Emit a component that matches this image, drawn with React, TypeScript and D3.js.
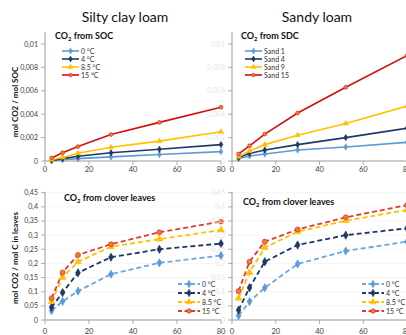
import React from "react";
import * as d3 from "d3";

const days = [3, 8, 15, 30, 52, 80];

const silt0 = [0.00003, 0.00012, 0.0002, 0.00035, 0.00055, 0.0008];
const silt4 = [0.00005, 0.0002, 0.0004, 0.0007, 0.001, 0.0014];
const silt85 = [0.0001, 0.0003, 0.00066, 0.00118, 0.0017, 0.0025];
const silt15 = [0.00026, 0.0007, 0.00123, 0.00226, 0.0033, 0.0046];

const sand1 = [0.0002, 0.00043, 0.0006, 0.00094, 0.0012, 0.0016];
const sand4 = [0.0003, 0.00065, 0.00094, 0.0014, 0.002, 0.0028];
const sand9 = [0.00037, 0.00085, 0.0014, 0.0022, 0.0032, 0.0047];
const sand15 = [0.0006, 0.0013, 0.0023, 0.0041, 0.0063, 0.009];

const cloverSilt0 = [0.033, 0.066, 0.102, 0.162, 0.202, 0.228];
const cloverSilt4 = [0.045, 0.097, 0.167, 0.222, 0.25, 0.27];
const cloverSilt85 = [0.065, 0.15, 0.206, 0.259, 0.286, 0.318];
const cloverSilt15 = [0.077, 0.168, 0.23, 0.268, 0.31, 0.348];

const cloverSand0 = [0.015, 0.065, 0.114, 0.198, 0.244, 0.277];
const cloverSand4 = [0.035, 0.114, 0.206, 0.265, 0.3, 0.324];
const cloverSand85 = [0.077, 0.168, 0.256, 0.312, 0.351, 0.389];
const cloverSand15 = [0.102, 0.206, 0.277, 0.32, 0.363, 0.406];

const tempLabels = ["0 °C", "4 °C", "8.5 °C", "15 °C"];
const sandLabels = ["Sand 1", "Sand 4", "Sand 9", "Sand 15"];
const xTicks = [0, 20, 40, 60, 80];
const socTicks = [0, 0.002, 0.004, 0.006, 0.008, 0.01];
const cloverTicks = [0, 0.05, 0.1, 0.15, 0.2, 0.25, 0.3, 0.35, 0.4, 0.45];

const colors = ["#5b9bd5", "#1f3864", "#ffc000", "#d01010"];
const dashColors = ["#6aa6e0", "#1f3864", "#ffc000", "#e03a30"];
const markerFill = ["#5b9bd5", "#1f3864", "#ffc000", "#ed7d31"];
const shapes = [d3.symbolDiamond, d3.symbolDiamond, d3.symbolTriangle, d3.symbolCircle];

const FONT = "Lato, 'Open Sans', sans-serif";
const fmt = (v: number) => (v === 0 ? "0" : String(+v.toFixed(3)).replace(".", ","));

function Marker({ x, y, i, size }: { x: number; y: number; i: number; size: number }) {
  const p = d3.symbol().type(shapes[i]).size(size)();
  return (
    <path
      d={p || ""}
      transform={`translate(${x},${y})`}
      fill={markerFill[i]}
      stroke={i === 3 ? "#d02020" : markerFill[i]}
      strokeWidth={0.6}
    />
  );
}

function CO2Label({ x, y, rest, size }: { x: number; y: number; rest: string; size: number }) {
  return (
    <text x={x} y={y} fontFamily={FONT} fontWeight="bold" fontSize={size} fill="#111">
      CO
      <tspan fontSize={size * 0.65} dy={size * 0.25}>2</tspan>
      <tspan dy={-size * 0.25}>{rest}</tspan>
    </text>
  );
}

type PanelProps = {
  x0: number;
  x1: number;
  yTop: number;
  yBot: number;
  yAxisTop: number;
  domainMax: number;
  ticks: number[];
  series: number[][];
  dashed: boolean;
  faintLabels: boolean;
  xLabelY: number;
};

function Panel(p: PanelProps) {
  const x = d3.scaleLinear().domain([0, 80]).range([p.x0, p.x1]);
  const y = d3.scaleLinear().domain([0, p.domainMax]).range([p.yBot, p.yTop]);
  const line = d3
    .line<number>()
    .x((_, i) => x(days[i]))
    .y((d) => y(d));
  const axisColor = "#9a9a9a";
  return (
    <g>
      {p.dashed &&
        p.ticks.map((t) => (
          <line key={"g" + t} x1={p.x0} x2={p.x1} y1={y(t)} y2={y(t)} stroke="#f2f2f2" strokeWidth={0.8} />
        ))}
      <line x1={p.x0} x2={p.x0} y1={p.yAxisTop} y2={p.yBot} stroke={axisColor} strokeWidth={1} />
      <line x1={p.x0} x2={p.x1} y1={p.yBot} y2={p.yBot} stroke={axisColor} strokeWidth={1} />
      {p.ticks.map((t) => (
        <g key={"t" + t}>
          <line x1={p.x0 - 4} x2={p.x0} y1={y(t)} y2={y(t)} stroke={axisColor} strokeWidth={0.8} />
          <text
            x={p.x0 - 7}
            y={y(t) + 2.5}
            textAnchor="end"
            fontFamily={FONT}
            fontSize={7}
            fill={p.faintLabels ? "#e6e6e6" : "#404040"}
          >
            {fmt(t)}
          </text>
        </g>
      ))}
      {xTicks.map((t) => (
        <g key={"x" + t}>
          <line x1={x(t)} x2={x(t)} y1={p.yBot} y2={p.yBot + 4} stroke={axisColor} strokeWidth={0.8} />
          <text x={x(t)} y={p.xLabelY} textAnchor="middle" fontFamily={FONT} fontSize={7.5} fill="#404040">
            {t}
          </text>
        </g>
      ))}
      {p.series.map((s, i) => (
        <path
          key={"l" + i}
          d={line(s) || ""}
          fill="none"
          stroke={p.dashed ? dashColors[i] : colors[i]}
          strokeWidth={p.dashed ? 1.8 : 1.6}
          strokeDasharray={p.dashed ? "5,3" : undefined}
        />
      ))}
      {p.series.map((s, i) =>
        s.map((v, j) => (
          <Marker key={`m${i}-${j}`} x={x(days[j])} y={y(v)} i={i} size={p.dashed ? 20 : 12} />
        ))
      )}
    </g>
  );
}

function Legend({ x, y, labels, dashed }: { x: number; y: number; labels: string[]; dashed: boolean }) {
  const len = dashed ? 22 : 17;
  return (
    <g>
      {labels.map((l, i) => (
        <g key={l} transform={`translate(${x},${y + i * (dashed ? 9 : 8)})`}>
          <line
            x1={0}
            x2={len}
            y1={0}
            y2={0}
            stroke={dashed ? dashColors[i] : colors[i]}
            strokeWidth={dashed ? 1.8 : 1.6}
            strokeDasharray={dashed ? "4,2.5" : undefined}
          />
          <Marker x={len / 2} y={0} i={i} size={dashed ? 16 : 10} />
          <text x={len + 2} y={2.5} fontFamily={FONT} fontSize={7} fill="#303030">
            {l}
          </text>
        </g>
      ))}
    </g>
  );
}

export default function App() {
  return (
    <svg
      width={406}
      height={335}
      style={{ position: "absolute", left: 0, top: 0, background: "#fff" }}
    >
      <text x={125} y={22} textAnchor="middle" fontFamily={FONT} fontSize={14} fill="#111">
        Silty clay loam
      </text>
      <text x={317} y={22} textAnchor="middle" fontFamily={FONT} fontSize={14} fill="#111">
        Sandy loam
      </text>

      <Panel
        x0={45}
        x1={221}
        yTop={44}
        yBot={161}
        yAxisTop={32}
        domainMax={0.01}
        ticks={socTicks}
        series={[silt0, silt4, silt85, silt15]}
        dashed={false}
        faintLabels={false}
        xLabelY={172}
      />
      <Panel
        x0={232}
        x1={407}
        yTop={44}
        yBot={161}
        yAxisTop={32}
        domainMax={0.01}
        ticks={socTicks}
        series={[sand1, sand4, sand9, sand15]}
        dashed={false}
        faintLabels={true}
        xLabelY={172}
      />
      <Panel
        x0={45}
        x1={221}
        yTop={192.7}
        yBot={320}
        yAxisTop={192}
        domainMax={0.45}
        ticks={cloverTicks}
        series={[cloverSilt0, cloverSilt4, cloverSilt85, cloverSilt15]}
        dashed={true}
        faintLabels={false}
        xLabelY={334}
      />
      <Panel
        x0={232}
        x1={407}
        yTop={192.7}
        yBot={320}
        yAxisTop={192}
        domainMax={0.45}
        ticks={cloverTicks}
        series={[cloverSand0, cloverSand4, cloverSand85, cloverSand15]}
        dashed={true}
        faintLabels={true}
        xLabelY={334}
      />

      <CO2Label x={55} y={39} rest=" from SOC" size={9} />
      <CO2Label x={241} y={39} rest=" from SDC" size={9} />
      <CO2Label x={64} y={201} rest=" from clover leaves" size={9} />
      <CO2Label x={243} y={205} rest=" from clover leaves" size={9} />

      <Legend x={62} y={51} labels={tempLabels} dashed={false} />
      <Legend x={245} y={51} labels={sandLabels} dashed={false} />
      <Legend x={178} y={284} labels={tempLabels} dashed={true} />
      <Legend x={362} y={284} labels={tempLabels} dashed={true} />

      <text
        transform="translate(18,102) rotate(-90)"
        textAnchor="middle"
        fontFamily={FONT}
        fontWeight="bold"
        fontSize={8}
        fill="#111"
      >
        mol CO2 / mol SOC
      </text>
      <text
        transform="translate(18,258) rotate(-90)"
        textAnchor="middle"
        fontFamily={FONT}
        fontWeight="bold"
        fontSize={8}
        fill="#111"
      >
        mol CO2 / mol C in leaves
      </text>
    </svg>
  );
}
